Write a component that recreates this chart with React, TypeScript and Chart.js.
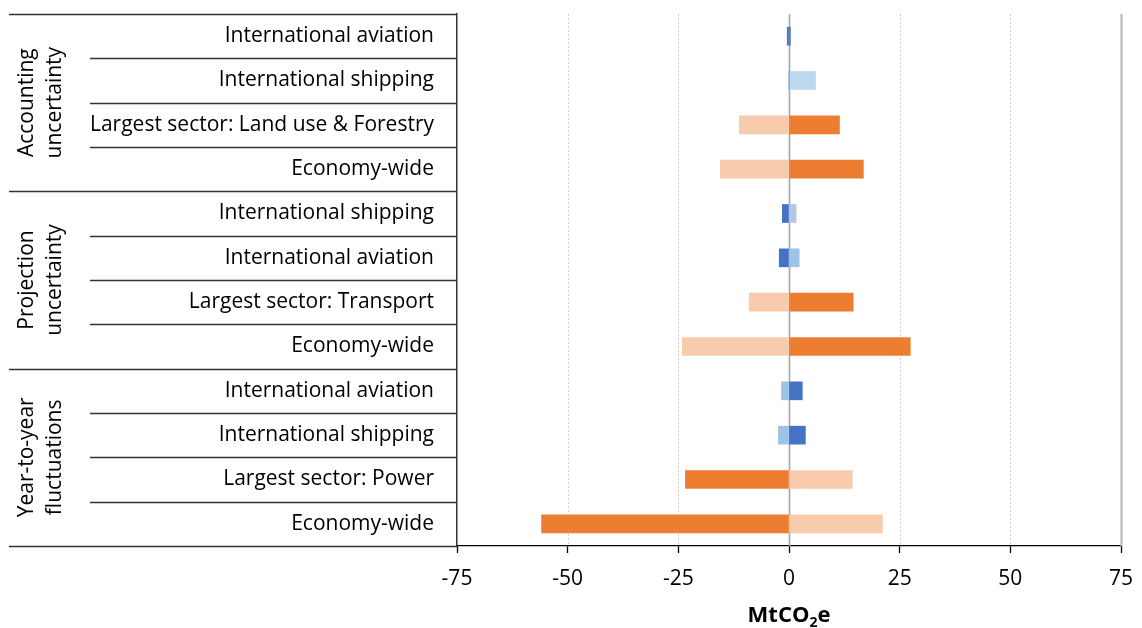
import React, { useEffect, useRef } from "react";
import { Chart, registerables } from "chart.js";

Chart.register(...registerables);

const categories = [
  "International aviation",
  "International shipping",
  "Largest sector: Land use & Forestry",
  "Economy-wide",
  "International shipping",
  "International aviation",
  "Largest sector: Transport",
  "Economy-wide",
  "International aviation",
  "International shipping",
  "Largest sector: Power",
  "Economy-wide",
];

const groupLabels = [
  ["Accounting", "uncertainty"],
  ["Projection", "uncertainty"],
  ["Year-to-year", "fluctuations"],
];
const groupSizes = [4, 4, 4];

const lowValues = [-0.4, 0, -11.2, -15.5, -1.5, -2.2, -9.0, -24.1, -1.7, -2.4, -23.4, -55.9];
const highValues = [0.3, 6.0, 11.4, 16.8, 1.6, 2.3, 14.5, 27.4, 3.0, 3.7, 14.3, 21.1];

const xTicks = [-75, -50, -25, 0, 25, 50, 75];

const DARK_ORANGE = "#ED7D31";
const LIGHT_ORANGE = "#F8CBAD";
const DARK_BLUE = "#4472C4";
const lowColors = [
  DARK_BLUE, DARK_BLUE, LIGHT_ORANGE, LIGHT_ORANGE,
  DARK_BLUE, DARK_BLUE, LIGHT_ORANGE, LIGHT_ORANGE,
  "#9DC3E6", "#9DC3E6", DARK_ORANGE, DARK_ORANGE,
];
const highColors = [
  DARK_BLUE, "#BDD7EE", DARK_ORANGE, DARK_ORANGE,
  "#B4C7E7", "#9DC3E6", DARK_ORANGE, DARK_ORANGE,
  DARK_BLUE, DARK_BLUE, LIGHT_ORANGE, LIGHT_ORANGE,
];

const FONT = "'Open Sans', 'Noto Sans', sans-serif";

const decor = {
  id: "decor",
  beforeDatasetsDraw(chart: any) {
    const { ctx, chartArea, scales } = chart;
    const x = scales.x;
    ctx.save();
    xTicks.forEach((v) => {
      const px = Math.round(x.getPixelForValue(v)) + 0.5;
      if (v === xTicks[0]) return;
      ctx.beginPath();
      if (v === 0) {
        ctx.strokeStyle = "#a6a6a6";
        ctx.lineWidth = 1.6;
        ctx.setLineDash([]);
      } else if (v === xTicks[xTicks.length - 1]) {
        ctx.strokeStyle = "#b5b5b5";
        ctx.lineWidth = 2;
        ctx.setLineDash([]);
      } else {
        ctx.strokeStyle = "#cfcfcf";
        ctx.lineWidth = 1;
        ctx.setLineDash([2, 2]);
      }
      ctx.moveTo(px, chartArea.top);
      ctx.lineTo(px, chartArea.bottom);
      ctx.stroke();
    });
    ctx.restore();
  },
  afterDraw(chart: any) {
    const { ctx, chartArea, scales } = chart;
    const y = scales.y;
    ctx.save();
    const groupStarts = new Set<number>();
    let acc = 0;
    groupSizes.forEach((s) => {
      groupStarts.add(acc);
      acc += s;
    });
    groupStarts.add(acc);
    const boundary = (i: number) => {
      if (i === 0) return chartArea.top;
      if (i === categories.length) return chartArea.bottom;
      return (y.getPixelForValue(i - 1) + y.getPixelForValue(i)) / 2;
    };
    ctx.strokeStyle = "#333333";
    ctx.lineWidth = 1.3;
    for (let i = 0; i <= categories.length; i++) {
      const py = Math.round(boundary(i)) + 0.5;
      const startX = groupStarts.has(i) ? 9 : 90;
      ctx.beginPath();
      ctx.moveTo(startX, py);
      ctx.lineTo(chartArea.left, py);
      ctx.stroke();
    }
    ctx.fillStyle = "#000";
    ctx.font = `21px ${FONT}`;
    ctx.textAlign = "center";
    ctx.textBaseline = "middle";
    acc = 0;
    groupLabels.forEach((lines, g) => {
      const top = boundary(acc);
      const bottom = boundary(acc + groupSizes[g]);
      acc += groupSizes[g];
      const cy = (top + bottom) / 2;
      ctx.save();
      ctx.translate(0, cy);
      ctx.rotate(-Math.PI / 2);
      lines.forEach((line, li) => {
        ctx.fillText(line, 0, 27 + li * 28);
      });
      ctx.restore();
    });
    const cx = (chartArea.left + chartArea.right) / 2;
    const base = 622;
    const big = `bold 22px ${FONT}`;
    const small = `bold 14px ${FONT}`;
    ctx.textBaseline = "alphabetic";
    ctx.textAlign = "left";
    ctx.font = big;
    const w1 = ctx.measureText("MtCO").width;
    const w3 = ctx.measureText("e").width;
    ctx.font = small;
    const w2 = ctx.measureText("2").width;
    let sx = cx - (w1 + w2 + w3) / 2;
    ctx.font = big;
    ctx.fillText("MtCO", sx, base);
    sx += w1;
    ctx.font = small;
    ctx.fillText("2", sx, base + 5);
    sx += w2;
    ctx.font = big;
    ctx.fillText("e", sx, base);
    ctx.restore();
  },
};

export default function App() {
  const ref = useRef<HTMLCanvasElement | null>(null);
  useEffect(() => {
    document.body.style.margin = "0";
    const canvas = ref.current;
    if (!canvas) return;
    const chart = new Chart(canvas, {
      type: "bar",
      data: {
        labels: categories,
        datasets: [
          {
            label: "Low",
            data: lowValues,
            backgroundColor: lowColors,
            barThickness: 18,
            borderWidth: 0,
          },
          {
            label: "High",
            data: highValues,
            backgroundColor: highColors,
            barThickness: 18,
            borderWidth: 0,
          },
        ],
      },
      options: {
        indexAxis: "y",
        animation: false,
        responsive: true,
        maintainAspectRatio: false,
        layout: { padding: { top: 14, right: 21, bottom: 0, left: 0 } },
        plugins: {
          legend: { display: false },
          tooltip: { enabled: false },
        },
        scales: {
          x: {
            type: "linear",
            stacked: true,
            min: -75,
            max: 75,
            afterBuildTicks: (scale: any) => {
              scale.ticks = xTicks.map((v) => ({ value: v }));
            },
            afterFit: (scale: any) => {
              scale.height = 82;
              scale.paddingLeft = 0;
              scale.paddingRight = 0;
              scale.paddingTop = 0;
              scale.paddingBottom = 0;
            },
            ticks: {
              color: "#000",
              font: { family: FONT, size: 21 },
              padding: 13,
              maxRotation: 0,
              autoSkip: false,
            },
            grid: {
              drawOnChartArea: false,
              drawTicks: true,
              tickLength: 7,
              tickColor: "#000",
              tickWidth: 1.3,
            },
            border: { display: true, color: "#000", width: 1.3 },
          },
          y: {
            type: "category",
            stacked: true,
            afterFit: (scale: any) => {
              scale.width = 457;
              scale.paddingLeft = 0;
              scale.paddingRight = 0;
              scale.paddingTop = 0;
              scale.paddingBottom = 0;
            },
            ticks: {
              color: "#000",
              font: { family: FONT, size: 21 },
              padding: 23,
              autoSkip: false,
            },
            grid: { display: false, drawTicks: false },
            border: { display: true, color: "#333", width: 1.5 },
          },
        },
      },
      plugins: [decor],
    });
    return () => chart.destroy();
  }, []);
  return (
    <div style={{ position: "relative", width: 1142, height: 628, background: "#fff" }}>
      <canvas ref={ref} />
    </div>
  );
}
